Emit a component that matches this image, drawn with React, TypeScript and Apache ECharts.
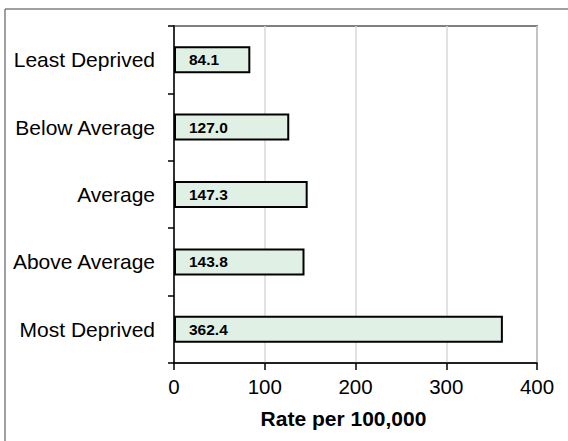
import React, { useEffect, useRef } from "react";
import * as echarts from "echarts";

const categories = ["Least Deprived", "Below Average", "Average", "Above Average", "Most Deprived"];
const rates = [84.1, 127.0, 147.3, 143.8, 362.4];
const xTicks = [0, 100, 200, 300, 400];

export default function App() {
  const ref = useRef<HTMLDivElement>(null);
  useEffect(() => {
    document.body.style.margin = "0";
    const chart = echarts.init(ref.current!, null, { renderer: "svg" });
    chart.setOption({
      animation: false,
      backgroundColor: "#ffffff",
      textStyle: { fontFamily: "Liberation Sans, Arial, sans-serif" },
      grid: {
        left: 174,
        right: 31,
        top: 26,
        bottom: 78,
        show: true,
        borderColor: "#808080",
        borderWidth: 2,
        backgroundColor: "transparent",
      },
      graphic: [
        { type: "line", shape: { x1: 5, y1: 9, x2: 568, y2: 9 }, style: { stroke: "#808080", lineWidth: 1.5 }, z: 100 },
        { type: "line", shape: { x1: 5, y1: 9, x2: 5, y2: 441 }, style: { stroke: "#808080", lineWidth: 1.5 }, z: 100 },
      ],
      xAxis: {
        type: "value",
        min: xTicks[0],
        max: xTicks[xTicks.length - 1],
        interval: 100,
        name: "Rate per 100,000",
        nameLocation: "middle",
        nameGap: 45,
        nameTextStyle: { fontSize: 21, fontWeight: "bold", color: "#000", padding: [0, 24, 0, 0] },
        axisLine: { show: true, lineStyle: { color: "#000", width: 1.5 } },
        axisTick: { show: true, inside: false, length: 7, lineStyle: { color: "#000", width: 1.5 } },
        axisLabel: { fontSize: 20.5, color: "#000", margin: 13 },
        splitLine: { show: true, lineStyle: { color: "#d9d9d9", width: 1.5 } },
      },
      yAxis: {
        type: "category",
        data: categories,
        inverse: true,
        axisLine: { show: true, lineStyle: { color: "#000", width: 1.5 } },
        axisTick: { show: true, length: 6, lineStyle: { color: "#000", width: 1.5 } },
        axisLabel: { fontSize: 21, color: "#000", margin: 19 },
        splitLine: { show: false },
      },
      series: [
        {
          type: "bar",
          data: rates,
          barWidth: 27,
          itemStyle: { color: "#e0f0e4", borderColor: "#000", borderWidth: 2 },
          label: {
            show: true,
            position: "insideLeft",
            distance: 15,
            fontSize: 15.5,
            fontWeight: "bold",
            color: "#000",
            formatter: (p: any) => Number(p.value).toFixed(1),
          },
        },
      ],
    });
    return () => chart.dispose();
  }, []);
  return <div ref={ref} style={{ width: 568, height: 441 }} />;
}
